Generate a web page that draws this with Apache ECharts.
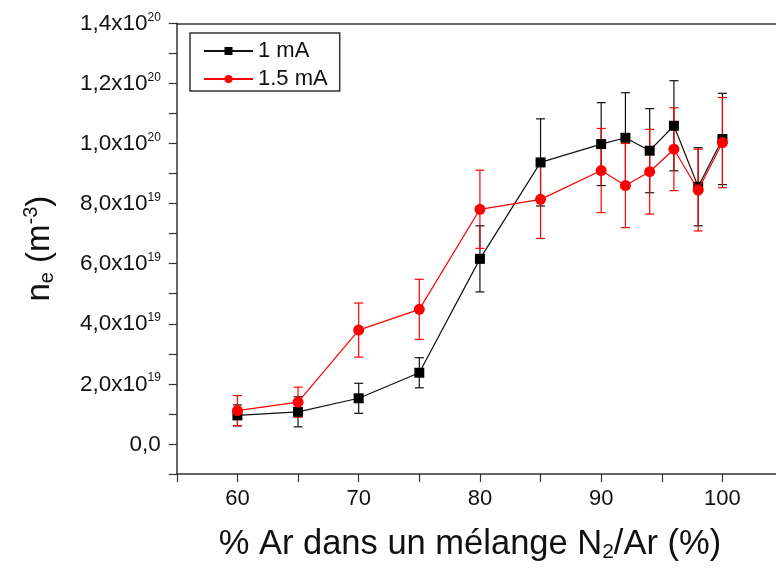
<!DOCTYPE html>
<html>
<head>
<meta charset="utf-8">
<script src="https://cdn.jsdelivr.net/npm/echarts@6/dist/echarts.min.js"></script>
<style>html,body{margin:0;padding:0;background:#fff;}#c{width:776px;height:569px;}</style>
</head>
<body>
<div id="c"></div>
<script>
// x: % Ar in N2/Ar mixture ; y values in units of 1e19 m^-3
var xValues = [60, 65, 70, 75, 80, 85, 90, 92, 94, 96, 98, 100];
var ne1mA    = [0.95, 1.07, 1.52, 2.37, 6.16, 9.37, 9.98, 10.19, 9.76, 10.59, 8.56, 10.15];
var err1mA   = [0.35, 0.50, 0.50, 0.50, 1.10, 1.45, 1.38, 1.50, 1.40, 1.50, 1.30, 1.52];
var ne15mA   = [1.11, 1.39, 3.79, 4.48, 7.81, 8.14, 9.10, 8.60, 9.06, 9.81, 8.45, 10.03];
var err15mA  = [0.50, 0.50, 0.90, 1.00, 1.30, 1.30, 1.40, 1.40, 1.41, 1.38, 1.36, 1.50];
var seriesNames = ['1 mA', '1.5 mA'];
var xTickLabels = [60, 70, 80, 90, 100];
var yTickValues = [0, 2, 4, 6, 8, 10, 12, 14];
var yTickMantissa = ['0,0', '2,0', '4,0', '6,0', '8,0', '1,0', '1,2', '1,4'];
var yTickExp = ['', '19', '19', '19', '19', '20', '20', '20'];

var FONT = '"Liberation Sans", Arial, sans-serif';
var TXT = '#111';
var AX = '#333';

function pts(xs, ys) { return xs.map(function (x, i) { return [x, ys[i]]; }); }
function errs(xs, ys, es) { return xs.map(function (x, i) { return [x, ys[i] - es[i], ys[i] + es[i]]; }); }

function errRender(color) {
  return function (params, api) {
    var x = api.value(0);
    var lo = api.coord([x, api.value(1)]);
    var hi = api.coord([x, api.value(2)]);
    var w = 4.5;
    var st = { stroke: color, lineWidth: 1.2 };
    return {
      type: 'group',
      children: [
        { type: 'line', shape: { x1: lo[0], y1: lo[1], x2: hi[0], y2: hi[1] }, style: st },
        { type: 'line', shape: { x1: lo[0] - w, y1: lo[1], x2: lo[0] + w, y2: lo[1] }, style: st },
        { type: 'line', shape: { x1: hi[0] - w, y1: hi[1], x2: hi[0] + w, y2: hi[1] }, style: st }
      ]
    };
  };
}

var chart = echarts.init(document.getElementById('c'), null, { renderer: 'canvas' });
chart.setOption({
  animation: false,
  backgroundColor: '#fff',
  textStyle: { fontFamily: FONT },
  grid: { left: 176.8, top: 23.3, width: 606.25, height: 450.7, containLabel: false, outerBoundsMode: 'none' },
  legend: {
    orient: 'vertical',
    left: 190, top: 33,
    data: seriesNames,
    itemWidth: 49, itemHeight: 10, itemGap: 6,
    padding: [7, 12, 1, 13],
    borderColor: AX, borderWidth: 1.5,
    textStyle: { fontSize: 22, color: TXT, fontFamily: FONT, lineHeight: 22 }
  },
  xAxis: [{
    type: 'value', position: 'bottom',
    min: 55, max: 105, interval: 5,
    name: '{t|% Ar dans un mélange N}{s|2}{t|/Ar (%)}',
    nameLocation: 'middle', nameGap: 51,
    nameTextStyle: {
      padding: [0, 20, 0, 0],
      rich: {
        t: { fontSize: 34.5, color: TXT, fontFamily: FONT, lineHeight: 38, verticalAlign: 'middle' },
        s: { fontSize: 21, color: TXT, fontFamily: FONT, lineHeight: 14, verticalAlign: 'bottom' }
      }
    },
    axisLine: { show: true, onZero: false, lineStyle: { color: AX, width: 1.5 } },
    axisTick: { show: true, inside: false, length: 8, lineStyle: { color: AX, width: 1.2 } },
    axisLabel: {
      margin: 14, fontSize: 22, color: TXT, fontFamily: FONT,
      formatter: function (v) { return xTickLabels.indexOf(v) >= 0 ? String(v) : ''; }
    },
    splitLine: { show: false }
  }, {
    type: 'value', position: 'top',
    min: 55, max: 105,
    axisLine: { show: true, onZero: false, lineStyle: { color: AX, width: 1.5 } },
    axisTick: { show: false }, axisLabel: { show: false }, splitLine: { show: false }
  }],
  yAxis: {
    type: 'value', min: -1, max: 14, interval: 1,
    name: '{t|n}{s|e}{t| (m}{p|-3}{t|)}',
    nameLocation: 'middle', nameGap: 119,
    nameTextStyle: {
      rich: {
        t: { fontSize: 33, color: TXT, fontFamily: FONT, lineHeight: 36, verticalAlign: 'middle' },
        s: { fontSize: 20, color: TXT, fontFamily: FONT, lineHeight: 14, verticalAlign: 'bottom' },
        p: { fontSize: 20, color: TXT, fontFamily: FONT, lineHeight: 14, verticalAlign: 'top' }
      }
    },
    axisLine: { show: true, onZero: false, lineStyle: { color: AX, width: 1.5 } },
    axisTick: { show: true, inside: false, length: 8, lineStyle: { color: AX, width: 1.2 } },
    axisLabel: {
      margin: 16,
      formatter: function (v) {
        var i = yTickValues.indexOf(v);
        if (i < 0) return '';
        if (!yTickExp[i]) return '{b|' + yTickMantissa[i] + '}';
        return '{b|' + yTickMantissa[i] + 'x10}{s|' + yTickExp[i] + '}';
      },
      rich: {
        b: { fontSize: 22.5, color: TXT, fontFamily: FONT, lineHeight: 24, verticalAlign: 'bottom' },
        s: { fontSize: 12, color: TXT, fontFamily: FONT, lineHeight: 12, verticalAlign: 'top' }
      }
    },
    splitLine: { show: false }
  },
  series: [
    {
      name: seriesNames[0] + ' err', type: 'custom', z: 2,
      renderItem: errRender('#111'),
      encode: { x: 0, y: [1, 2] },
      data: errs(xValues, ne1mA, err1mA), silent: true
    },
    {
      name: seriesNames[1] + ' err', type: 'custom', z: 3,
      renderItem: errRender('#ff0000'),
      encode: { x: 0, y: [1, 2] },
      data: errs(xValues, ne15mA, err15mA), silent: true
    },
    {
      name: seriesNames[0], type: 'line', z: 4,
      data: pts(xValues, ne1mA),
      symbol: 'rect', symbolSize: 10,
      lineStyle: { color: '#111', width: 1.2 },
      itemStyle: { color: '#000' }
    },
    {
      name: seriesNames[1], type: 'line', z: 5,
      data: pts(xValues, ne15mA),
      symbol: 'circle', symbolSize: 11,
      lineStyle: { color: '#ff0000', width: 1.2 },
      itemStyle: { color: '#ff0000' }
    }
  ]
});
</script>
</body>
</html>
